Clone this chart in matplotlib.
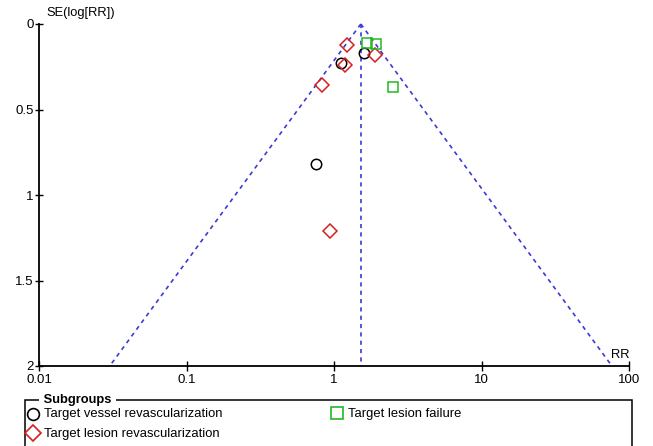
import matplotlib
matplotlib.use('Agg')
import matplotlib.pyplot as plt
import numpy as np
from matplotlib.lines import Line2D
from matplotlib.patches import Rectangle

plt.rcParams['font.family'] = ['Liberation Sans', 'DejaVu Sans']

# study estimates
tvr_rr = [1.60, 1.11, 0.755]
tvr_se = [0.170, 0.228, 0.819]

tlr_rr = [1.22, 1.90, 1.19, 0.83, 0.94]
tlr_se = [0.121, 0.181, 0.240, 0.357, 1.21]

tlf_rr = [1.67, 1.93, 2.51]
tlf_se = [0.109, 0.117, 0.368]

pooled_rr = 1.52
se_max = 2.0

x_ticks = [0.01, 0.1, 1, 10, 100]
x_labels = ['0.01', '0.1', '1', '10', '100']
y_ticks = [0, 0.5, 1, 1.5, 2]
y_labels = ['0', '0.5', '1', '1.5', '2']

fig = plt.figure(figsize=(6.53, 4.46), dpi=100)
ax = fig.add_axes([39 / 653, 1 - 366 / 446, 590 / 653, 342 / 446])

blue = '#3a3ad6'
# funnel limits (95% pseudo confidence)
se_line = np.array([0, se_max])
ax.plot(pooled_rr * np.exp(-1.96 * se_line), se_line, color=blue, lw=1.2,
        ls=(0, (2.5, 2.5)), clip_on=False)
ax.plot(pooled_rr * np.exp(1.96 * se_line), se_line, color=blue, lw=1.2,
        ls=(0, (2.5, 2.5)), clip_on=False)
ax.plot([pooled_rr, pooled_rr], [0, se_max], color=blue, lw=1.2,
        ls=(0, (2.5, 2.5)))

ax.plot(tvr_rr, tvr_se, ls='none', marker='o', ms=7.5, mfc='none',
        mec='black', mew=1.1)
ax.plot(tlr_rr, tlr_se, ls='none', marker='D', ms=6.8, mfc='none',
        mec='#d62020', mew=1.1)
ax.plot(tlf_rr, tlf_se, ls='none', marker='s', ms=7.2, mfc='none',
        mec='#22b822', mew=1.1)

ax.set_xscale('log')
ax.set_xlim(0.01, 100)
ax.set_ylim(2, 0)
ax.set_xticks(x_ticks)
ax.set_xticklabels(x_labels, fontsize=9.5)
ax.xaxis.set_minor_locator(matplotlib.ticker.NullLocator())
ax.set_yticks(y_ticks)
ax.set_yticklabels(y_labels, fontsize=9.5)
ax.tick_params(axis='x', direction='inout', length=7, width=1, pad=2.5)
ax.tick_params(axis='y', direction='inout', length=6, width=1, pad=1)

ax.spines['top'].set_visible(False)
ax.spines['right'].set_visible(False)
ax.spines['left'].set_linewidth(1.3)
ax.spines['bottom'].set_linewidth(1.3)

fig.text(46 / 653, 1 - 13 / 446, 'SE(log[RR])', fontsize=9.3, va='center', ha='left')
fig.text(630 / 653, 1 - 355 / 446, 'RR', fontsize=9.3, va='center', ha='right')

# subgroup box at the bottom
box = Rectangle((25 / 653, -0.05), 607 / 653, 1 - 400 / 446 + 0.05,
                transform=fig.transFigure, fill=False, edgecolor='black', lw=1.1,
                zorder=1)
fig.add_artist(box)
fig.text(40 / 653, 1 - 400 / 446, ' Subgroups ', fontsize=9.3, fontweight='bold',
         va='center', ha='left', zorder=2,
         bbox=dict(facecolor='white', edgecolor='none', pad=0.5))

fig.add_artist(Line2D([33 / 653], [1 - 414 / 446], marker='o', ms=8.5, mfc='none',
                      mec='black', mew=1.2, ls='none', transform=fig.transFigure,
                      zorder=5))
fig.text(44 / 653, 1 - 414 / 446, 'Target vessel revascularization', fontsize=9.4,
         va='center', ha='left')
fig.add_artist(Line2D([33 / 653], [1 - 433 / 446], marker='D', ms=8, mfc='none',
                      mec='#d62020', mew=1.2, ls='none', transform=fig.transFigure,
                      zorder=5))
fig.text(44 / 653, 1 - 434 / 446, 'Target lesion revascularization', fontsize=9.4,
         va='center', ha='left')
fig.add_artist(Line2D([337 / 653], [1 - 413 / 446], marker='s', ms=8, mfc='none',
                      mec='#22b822', mew=1.2, ls='none', transform=fig.transFigure,
                      zorder=5))
fig.text(348 / 653, 1 - 414 / 446, 'Target lesion failure', fontsize=9.4,
         va='center', ha='left')

plt.savefig('out.png', dpi=100)
